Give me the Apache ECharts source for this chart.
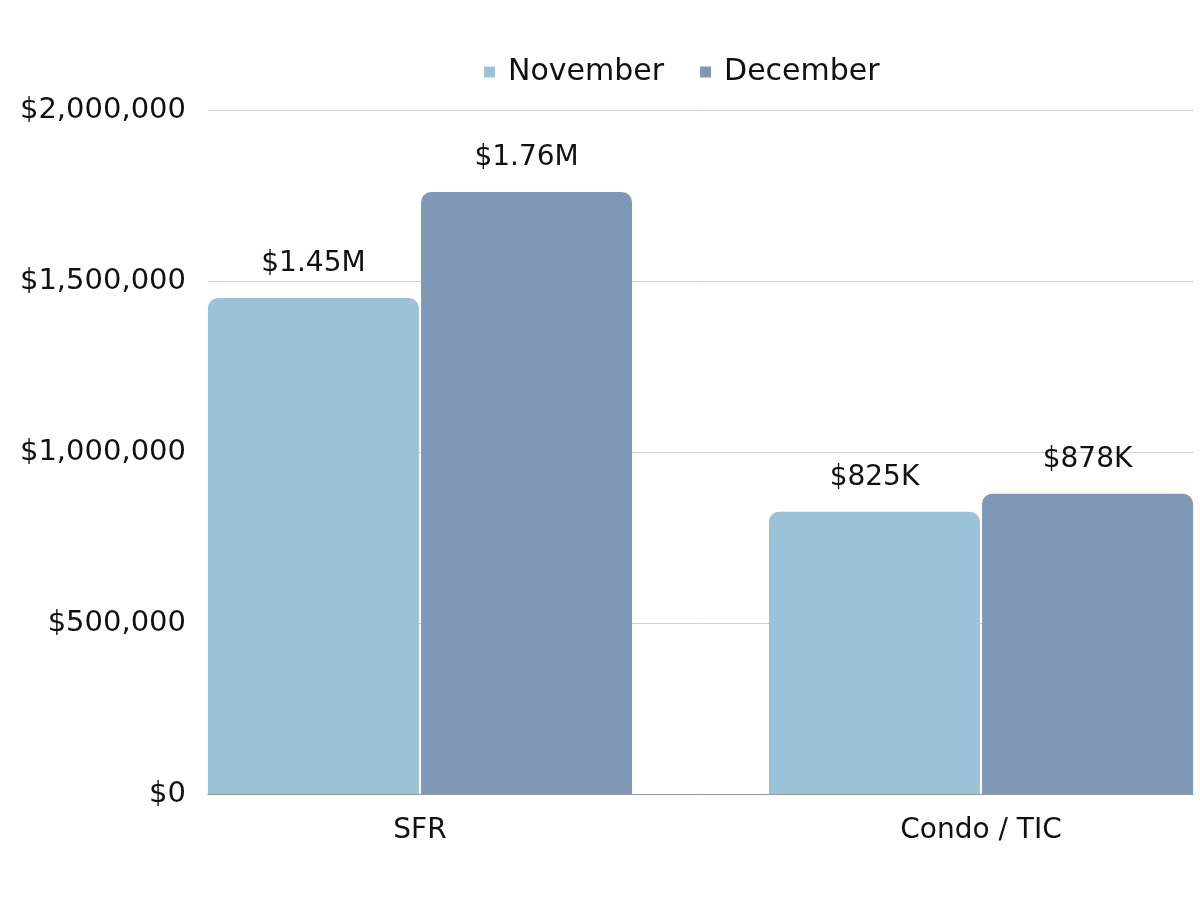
<!DOCTYPE html>
<html><head><meta charset="utf-8">
<script src="https://cdn.jsdelivr.net/npm/echarts@6/dist/echarts.min.js"></script>
<style>html,body{margin:0;padding:0;background:#fff}#c{width:1200px;height:900px}</style>
</head><body><div id="c"></div>
<script>
const categories = ['SFR', 'Condo / TIC'];
const seriesNames = ['November', 'December'];
const november = [1450000, 825000];
const december = [1760000, 878000];
const novemberLabels = ['$1.45M', '$825K'];
const decemberLabels = ['$1.76M', '$878K'];
const yTicks = [0, 500000, 1000000, 1500000, 2000000];

const FONT = 'DejaVu Sans';
const chart = echarts.init(document.getElementById('c'));
const fmt = v => '$' + v.toLocaleString('en-US');
chart.setOption({
  animation: false,
  textStyle: { fontFamily: FONT },
  legend: {
    data: seriesNames, top: 52, left: 479,
    itemWidth: 11, itemHeight: 11, itemGap: 36, icon: 'rect',
    textStyle: { fontSize: 30, color: '#111', fontFamily: FONT, padding: [0, 0, 0, 8] }
  },
  grid: [
    { left: 208, right: 7, top: 110, bottom: 106, outerBoundsMode: 'none', containLabel: false },
    { left: 139.5, width: 1122, top: 110, bottom: 106, outerBoundsMode: 'none', containLabel: false }
  ],
  xAxis: [
    { type: 'category', gridIndex: 0, data: categories, show: true,
      axisLine: { lineStyle: { color: '#999', width: 1 } }, axisTick: { show: false },
      axisLabel: { show: false } },
    { type: 'category', gridIndex: 1, data: categories,
      axisLine: { show: false }, axisTick: { show: false },
      axisLabel: { fontSize: 28, color: '#111', margin: 23, fontFamily: FONT } }
  ],
  yAxis: [
    { type: 'value', gridIndex: 0, min: 0, max: 2000000, interval: 500000,
      axisLine: { show: false }, axisTick: { show: false },
      splitLine: { lineStyle: { color: '#d0d0d0' } },
      axisLabel: { fontSize: 29, color: '#111', margin: 22, formatter: fmt, fontFamily: FONT } },
    { type: 'value', gridIndex: 1, min: 0, max: 2000000, interval: 500000, show: false,
      splitLine: { show: false } }
  ],
  series: [
    { name: seriesNames[0], type: 'bar', xAxisIndex: 1, yAxisIndex: 1, data: november,
      barWidth: 211, barGap: '1%', itemStyle: { color: '#9CC2D8', borderRadius: [10, 10, 0, 0] },
      label: { show: true, position: 'top', distance: 20, fontSize: 28, color: '#111', fontFamily: FONT,
        formatter: p => novemberLabels[p.dataIndex] } },
    { name: seriesNames[1], type: 'bar', xAxisIndex: 1, yAxisIndex: 1, data: december,
      barWidth: 211, barGap: '1%', itemStyle: { color: '#7F98B5', borderRadius: [10, 10, 0, 0] },
      label: { show: true, position: 'top', distance: 20, fontSize: 28, color: '#111', fontFamily: FONT,
        formatter: p => decemberLabels[p.dataIndex] } }
  ]
});
</script></body></html>
